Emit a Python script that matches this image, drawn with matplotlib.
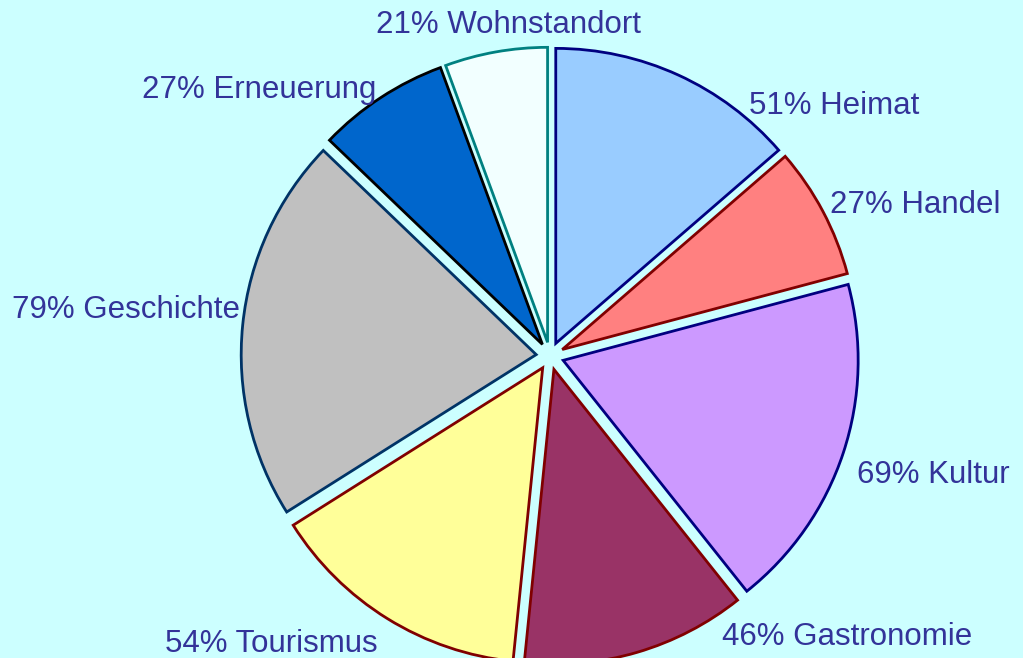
import matplotlib.pyplot as plt

plt.rcParams['font.family'] = ['Liberation Sans', 'DejaVu Sans']

# data, clockwise from 12 o'clock
labels = ["Heimat", "Handel", "Kultur", "Gastronomie", "Tourismus",
          "Geschichte", "Erneuerung", "Wohnstandort"]
values = [51, 27, 69, 46, 54, 79, 27, 21]

fills = ["#99CCFF", "#FF8080", "#CC99FF", "#993366", "#FFFF99",
         "#C0C0C0", "#0066CC", "#F2FFFF"]
edges = ["#000080", "#800000", "#000080", "#800000", "#800000",
         "#003366", "#000000", "#008080"]

# label anchors in pixels (x, baseline y) and horizontal alignment
label_px = [(749, 114), (830, 213), (857, 483), (722, 645),
            (378, 652), (240, 318), (376, 98), (508, 33)]
label_ha = ["left", "left", "left", "left", "right", "right", "right", "center"]

W, H = 1023, 658
cx, cy, r_px = 550, 356, 295   # pie centre and radius in pixels

fig = plt.figure(figsize=(W / 100, H / 100), dpi=100, facecolor="#CCFFFF")
ax = fig.add_axes([0, 0, 1, 1])
ax.set_facecolor("#CCFFFF")

wedges, _ = ax.pie(values, colors=fills, startangle=90, counterclock=False,
                   explode=[0.047] * len(values), radius=1,
                   wedgeprops=dict(linewidth=2))
for w, ec in zip(wedges, edges):
    w.set_edgecolor(ec)

for lab, v, (px, py), ha in zip(labels, values, label_px, label_ha):
    ax.text((px - cx) / r_px, (cy - py) / r_px, f"{v}% {lab}",
            ha=ha, va="baseline", fontsize=22.5, color="#333399")

ax.set_xlim(-cx / r_px, (W - cx) / r_px)
ax.set_ylim((cy - H) / r_px, cy / r_px)
ax.set_aspect("auto")
ax.axis("off")

fig.savefig("out.png", dpi=100, facecolor=fig.get_facecolor())
